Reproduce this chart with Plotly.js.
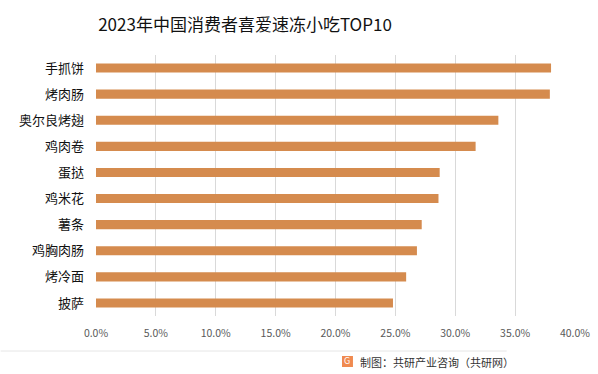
<!DOCTYPE html>
<html>
<head>
<meta charset="utf-8">
<script src="https://cdn.plot.ly/plotly-3.0.1.min.js"></script>
<style>
html,body{margin:0;padding:0;background:#fff;}
#chart{width:598px;height:374px;}
</style>
</head>
<body>
<div id="chart"></div>
<script>
const categories = ["手抓饼","烤肉肠","奥尔良烤翅","鸡肉卷","蛋挞","鸡米花","薯条","鸡胸肉肠","烤冷面","披萨"];
const values = [0.380, 0.379, 0.336, 0.317, 0.287, 0.286, 0.272, 0.268, 0.259, 0.248];
const tickValues = [0,0.05,0.10,0.15,0.20,0.25,0.30,0.35,0.40];
const tickLabels = ["0.0%","5.0%","10.0%","15.0%","20.0%","25.0%","30.0%","35.0%","40.0%"];

const cjk = '"Noto Sans CJK SC", "Microsoft YaHei", sans-serif';

const trace = {
  type: 'bar',
  orientation: 'h',
  y: categories,
  x: values,
  marker: {color: '#D58B4E'},
  hoverinfo: 'none'
};

const layout = {
  width: 598, height: 374,
  margin: {l: 95.5, r: 22.5, t: 55, b: 58},
  paper_bgcolor: '#fff', plot_bgcolor: '#fff',
  bargap: 0.65,
  showlegend: false,
  title: {
    text: '2023年中国消费者喜爱速冻小吃TOP10',
    font: {family: cjk, size: 17, color: '#111'},
    x: 245/598, xanchor: 'center', y: 1 - 25/374, yanchor: 'middle'
  },
  xaxis: {
    range: [0, 0.40],
    tickvals: tickValues,
    ticktext: tickLabels,
    showgrid: true, gridcolor: '#d9d9d9', gridwidth: 1,
    zeroline: false, showline: false,
    ticks: '',
    ticklabelstandoff: 9,
    tickfont: {family: cjk, size: 10.5, color: '#595959'},
    fixedrange: true
  },
  yaxis: {
    type: 'category',
    autorange: 'reversed',
    showgrid: false, zeroline: false, showline: false,
    ticks: '', ticklen: 0,
    tickfont: {family: cjk, size: 13, color: '#111'},
    ticklabelstandoff: 11,
    fixedrange: true
  },
  shapes: [
    {type: 'line', xref: 'paper', yref: 'paper',
     x0: -95.5/480, x1: (507-95.5)/480, y0: (374-58-351)/261, y1: (374-58-351)/261,
     line: {color: '#e6e6e6', width: 1}},
    {type: 'rect', xref: 'paper', yref: 'paper',
     x0: (342-95.5)/480, x1: (353-95.5)/480,
     y0: (316-367)/261, y1: (316-356)/261,
     fillcolor: '#F08A50', line: {width: 0}}
  ],
  annotations: [
    {text: 'G', xref: 'paper', yref: 'paper',
     x: (347.5-95.5)/480, y: (316-361.5)/261, xanchor: 'center', yanchor: 'middle',
     showarrow: false, font: {family: 'DejaVu Sans', size: 8, color: '#fff'}},
    {text: '制图：共研产业咨询（共研网）', xref: 'paper', yref: 'paper',
     x: (358-95.5)/480, y: (316-361.5)/261, xanchor: 'left', yanchor: 'middle',
     showarrow: false, font: {family: cjk, size: 11, color: '#333'}}
  ]
};

Plotly.newPlot('chart', [trace], layout, {displayModeBar: false, staticPlot: true});
</script>
</body>
</html>
